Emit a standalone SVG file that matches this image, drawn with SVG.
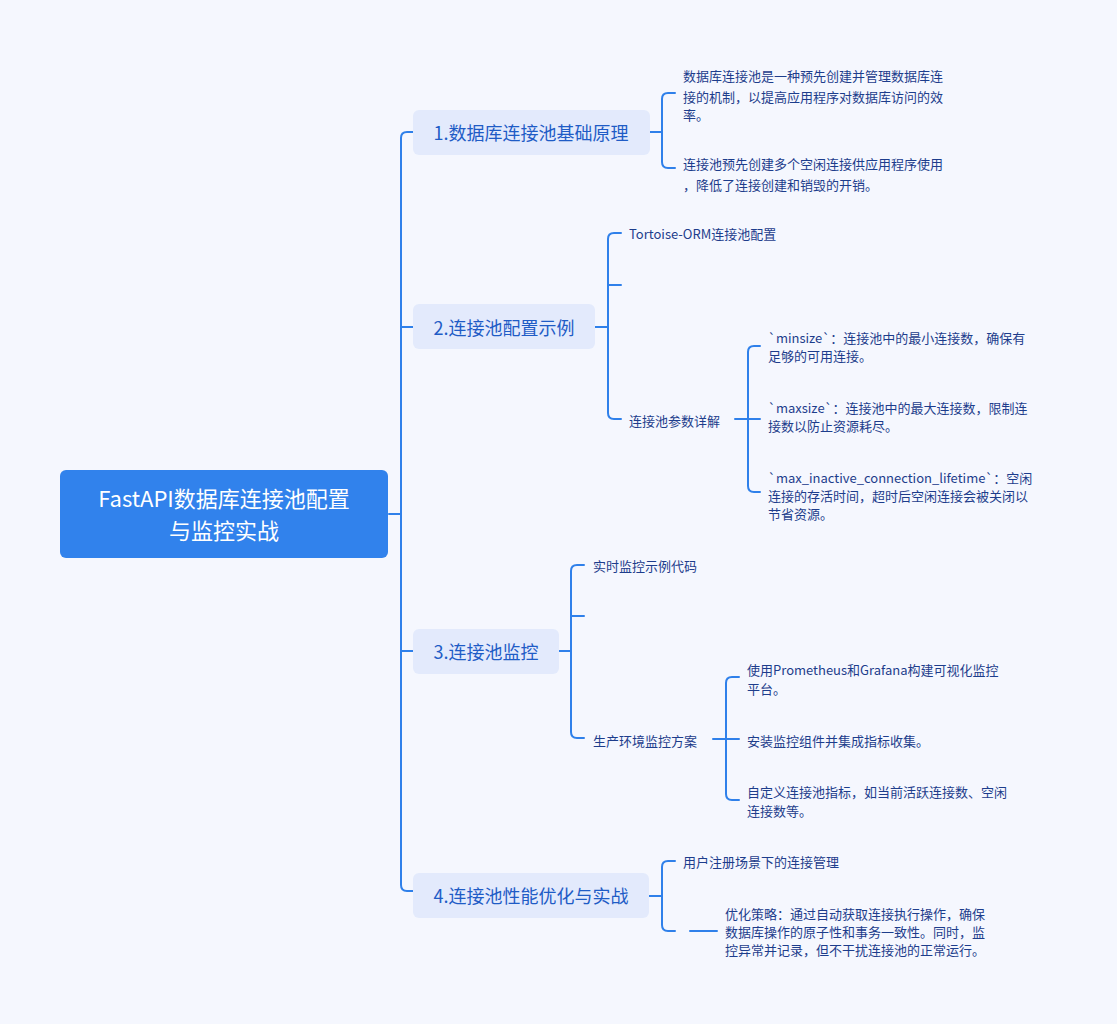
<svg xmlns="http://www.w3.org/2000/svg" width="1117" height="1024" viewBox="0 0 1117 1024">
<style>
.c{fill:none;stroke:#2f80ea;stroke-width:2;stroke-linecap:round}
.t{font-family:"Noto Sans CJK SC","Noto Sans",sans-serif;font-size:13px;fill:#1d3d8c;dominant-baseline:central}
.b{fill:#e3eafc}
.bt{font-family:"Noto Sans CJK SC","Noto Sans",sans-serif;font-size:18px;fill:#1f5cc6;text-anchor:middle;dominant-baseline:central}
</style>
<rect width="1117" height="1024" fill="#f5f7fe"/>
<g id="connectors">
<path class="c" d="M389 514H401M413 132H407Q401 132 401 138V885Q401 891 407 891H413M401 327H413M401 651H413"/>
<path class="c" d="M650 132H662M675 93H668Q662 93 662 99V162Q662 168 668 168H675"/>
<path class="c" d="M595 327H608M621 233H614Q608 233 608 239V413Q608 419 614 419H621M608 285H621"/>
<path class="c" d="M735 419H748M760 346H754Q748 346 748 352V486Q748 492 754 492H760M748 419H760"/>
<path class="c" d="M559 651H571M584 565H577Q571 565 571 571V732Q571 738 577 738H584M571 616H584"/>
<path class="c" d="M713 739H726M739 677H732Q726 677 726 683V794Q726 800 732 800H739M726 739H739"/>
<path class="c" d="M649 896H662M675 861H668Q662 861 662 867V925Q662 931 668 931H675M690 931H717"/>
</g>
<g id="root"><rect x="60" y="470" width="328" height="88" rx="6" fill="#3182ec"/>
<text x="224" y="497" font-family="'Noto Sans CJK SC',sans-serif" font-size="22" fill="#fff" text-anchor="middle" dominant-baseline="central">FastAPI数据库连接池配置</text>
<text x="224" y="529" font-family="'Noto Sans CJK SC',sans-serif" font-size="22" fill="#fff" text-anchor="middle" dominant-baseline="central">与监控实战</text></g>
<g id="n1"><rect class="b" x="413" y="110" width="237" height="45" rx="6"/><text class="bt" x="531" y="132">1.数据库连接池基础原理</text></g>
<g id="n2"><rect class="b" x="413" y="304" width="182" height="45" rx="6"/><text class="bt" x="504" y="327">2.连接池配置示例</text></g>
<g id="n3"><rect class="b" x="413" y="629" width="146" height="45" rx="6"/><text class="bt" x="486" y="651">3.连接池监控</text></g>
<g id="n4"><rect class="b" x="413" y="873" width="236" height="45" rx="6"/><text class="bt" x="531" y="895">4.连接池性能优化与实战</text></g>
<g id="n1a"><text class="t" x="683" y="75">数据库连接池是一种预先创建并管理数据库连</text><text class="t" x="683" y="96">接的机制，以提高应用程序对数据库访问的效</text><text class="t" x="683" y="114">率。</text></g>
<g id="n1b"><text class="t" x="683" y="163">连接池预先创建多个空闲连接供应用程序使用</text><text class="t" x="683" y="184">，降低了连接创建和销毁的开销。</text></g>
<g id="n2a"><text class="t" x="629" y="233">Tortoise-ORM连接池配置</text></g>
<g id="n2c"><text class="t" x="629" y="420">连接池参数详解</text></g>
<g id="n2c1"><text class="t" x="768" y="337">`minsize`：连接池中的最小连接数，确保有</text><text class="t" x="768" y="355">足够的可用连接。</text></g>
<g id="n2c2"><text class="t" x="768" y="407">`maxsize`：连接池中的最大连接数，限制连</text><text class="t" x="768" y="425">接数以防止资源耗尽。</text></g>
<g id="n2c3"><text class="t" x="768" y="477">`max_inactive_connection_lifetime`：空闲</text><text class="t" x="768" y="495">连接的存活时间，超时后空闲连接会被关闭以</text><text class="t" x="768" y="513">节省资源。</text></g>
<g id="n3a"><text class="t" x="593" y="565">实时监控示例代码</text></g>
<g id="n3c"><text class="t" x="593" y="740">生产环境监控方案</text></g>
<g id="n3c1"><text class="t" x="747" y="669">使用Prometheus和Grafana构建可视化监控</text><text class="t" x="747" y="688">平台。</text></g>
<g id="n3c2"><text class="t" x="747" y="740">安装监控组件并集成指标收集。</text></g>
<g id="n3c3"><text class="t" x="747" y="791">自定义连接池指标，如当前活跃连接数、空闲</text><text class="t" x="747" y="810">连接数等。</text></g>
<g id="n4a"><text class="t" x="683" y="861">用户注册场景下的连接管理</text></g>
<g id="n4b"><text class="t" x="725" y="913">优化策略：通过自动获取连接执行操作，确保</text><text class="t" x="725" y="931">数据库操作的原子性和事务一致性。同时，监</text><text class="t" x="725" y="949">控异常并记录，但不干扰连接池的正常运行。</text></g>
</svg>
